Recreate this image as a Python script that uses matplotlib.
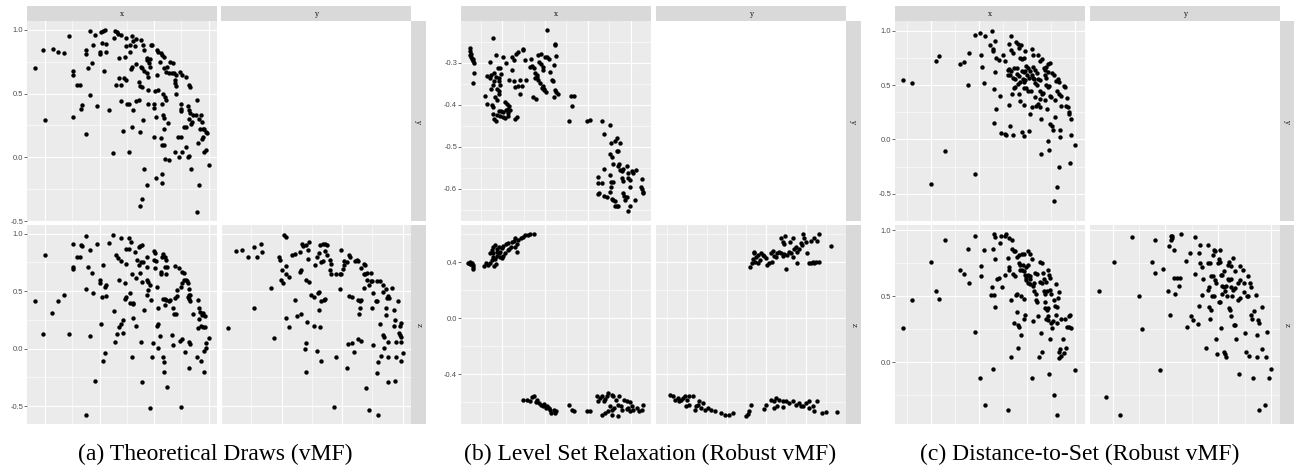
import numpy as np
import matplotlib
matplotlib.use("Agg")
import matplotlib.pyplot as plt

# ---------------- data ----------------
# (a) Theoretical Draws (vMF)
a_xy = [(-0.59,0.70),(-0.52,0.84),(-0.50,0.29),(-0.43,0.85),(-0.38,0.83),(-0.33,0.82),(-0.28,0.95),(-0.245,0.68),(-0.245,0.65),(-0.245,0.32),(-0.21,0.57),(-0.18,0.57),(-0.17,0.38),(-0.16,0.41),(-0.13,0.84),(-0.13,0.81),(-0.13,0.18),(-0.11,0.70),(-0.09,0.99),(-0.085,0.49),(-0.07,0.74),(-0.06,0.88),(-0.04,0.96),(-0.02,0.40),(0.0,0.81),(0.005,0.83),(0.01,0.98),(0.03,0.99),(0.05,1.0),(0.02,0.90),(0.04,0.68),(0.06,0.89),(0.06,0.83),(0.09,0.37),(0.12,0.03),(0.13,0.94),(0.14,0.99),(0.16,0.98),(0.17,0.97),(0.20,0.96),(0.15,0.57),(0.18,0.62),(0.20,0.57),(0.18,0.78),(0.20,0.44),(0.21,0.21),(0.22,0.62),(0.24,0.61),(0.23,0.79),(0.24,0.87),(0.24,0.94),(0.25,0.42),(0.27,0.42),(0.27,0.04),(0.28,0.88),(0.28,0.83),(0.29,0.69),(0.30,0.71),(0.30,0.95),(0.31,0.91),(0.32,0.87),(0.31,0.37),(0.30,0.24),(0.33,0.93),(0.33,0.73),(0.33,0.44),(0.36,0.45),(0.36,0.59),(0.37,0.56),(0.37,0.20),(0.38,0.92),(0.40,0.88),(0.41,0.84),(0.38,0.71),(0.39,0.70),(0.41,0.68),(0.39,0.55),(0.40,0.29),(0.41,-0.09),(0.43,-0.22),(0.37,-0.38),(0.39,-0.33),(0.43,0.78),(0.43,0.76),(0.45,0.74),(0.43,0.66),(0.44,0.63),(0.44,0.42),(0.44,0.53),(0.46,0.71),(0.46,0.77),(0.47,0.88),(0.48,0.88),(0.50,0.42),(0.50,0.39),(0.50,0.16),(0.51,0.52),(0.53,0.84),(0.54,0.83),(0.56,0.82),(0.57,0.80),(0.59,0.79),(0.52,0.32),(0.52,-0.16),(0.53,0.65),(0.54,0.53),(0.55,0.75),(0.56,0.15),(0.57,-0.20),(0.57,-0.13),(0.57,0.42),(0.58,0.33),(0.59,0.31),(0.57,0.10),(0.59,0.10),(0.58,0.50),(0.60,0.47),(0.61,0.45),(0.59,0.22),(0.59,0.70),(0.61,0.67),(0.62,0.71),(0.60,-0.01),(0.63,0.27),(0.64,-0.02),(0.64,0.66),(0.66,0.66),(0.68,0.66),(0.65,0.75),(0.67,0.74),(0.69,0.61),(0.69,0.58),(0.70,0.56),(0.69,0.04),(0.70,0.50),(0.70,0.65),(0.72,0.16),(0.75,0.16),(0.73,0.00),(0.74,0.67),(0.76,0.65),(0.79,0.63),(0.75,0.42),(0.75,0.38),(0.75,0.36),(0.76,0.04),(0.77,0.24),(0.79,0.24),(0.79,0.08),(0.81,0.40),(0.82,0.37),(0.83,0.35),(0.81,0.00),(0.82,0.01),(0.82,0.57),(0.83,0.55),(0.82,0.30),(0.84,0.26),(0.85,0.28),(0.84,-0.09),(0.86,0.33),(0.88,0.33),(0.89,0.45),(0.89,-0.43),(0.90,0.11),(0.91,-0.22),(0.91,0.30),(0.93,0.33),(0.94,0.28),(0.92,0.22),(0.95,0.22),(0.94,0.14),(0.95,0.16),(0.96,0.22),(0.98,0.20),(0.985,0.19),(0.96,0.04),(0.98,0.06),(1.0,-0.06)]
a_xz = [(-0.59,0.41),(-0.52,0.13),(-0.50,0.81),(-0.44,0.31),(-0.38,0.41),(-0.33,0.47),(-0.28,0.13),(-0.245,0.91),(-0.245,0.71),(-0.245,0.69),(-0.21,0.80),(-0.18,0.80),(-0.17,0.90),(-0.16,0.89),(-0.13,0.98),(-0.13,0.52),(-0.13,-0.58),(-0.11,0.71),(-0.09,0.11),(-0.085,0.86),(-0.07,0.66),(-0.06,0.48),(-0.04,-0.28),(-0.02,0.91),(0.0,0.60),(0.005,0.57),(0.01,0.21),(0.02,0.45),(0.03,0.73),(0.03,-0.11),(0.05,-0.04),(0.05,0.54),(0.06,0.55),(0.06,0.46),(0.09,0.92),(0.12,0.99),(0.13,0.33),(0.14,0.06),(0.15,0.81),(0.17,0.79),(0.16,0.13),(0.18,0.60),(0.18,0.19),(0.20,0.21),(0.20,0.76),(0.20,0.96),(0.21,0.14),(0.21,0.25),(0.23,0.57),(0.23,0.43),(0.24,0.45),(0.24,0.74),(0.24,0.87),(0.27,0.87),(0.27,0.96),(0.28,0.48),(0.28,0.40),(0.31,0.39),(0.31,0.40),(0.29,0.93),(0.30,0.65),(0.30,-0.07),(0.31,0.27),(0.32,0.84),(0.33,0.20),(0.33,0.61),(0.34,0.77),(0.36,0.88),(0.37,0.89),(0.39,0.90),(0.36,0.73),(0.38,0.75),(0.40,0.75),(0.37,0.66),(0.38,0.06),(0.39,-0.29),(0.39,0.58),(0.41,0.34),(0.43,0.80),(0.43,0.71),(0.43,0.60),(0.44,0.58),(0.43,0.47),(0.44,0.51),(0.46,0.55),(0.46,-0.52),(0.47,0.42),(0.48,-0.07),(0.49,0.05),(0.50,0.85),(0.51,0.83),(0.50,0.77),(0.52,0.76),(0.51,0.70),(0.53,0.54),(0.53,0.20),(0.54,0.21),(0.54,0.35),(0.54,0.01),(0.55,0.11),(0.56,0.67),(0.56,0.65),(0.57,0.80),(0.58,0.82),(0.60,0.80),(0.58,-0.07),(0.59,-0.12),(0.59,-0.20),(0.58,0.43),(0.60,0.43),(0.60,0.38),(0.61,0.42),(0.60,0.71),(0.62,0.71),(0.61,0.65),(0.61,0.77),(0.62,-0.33),(0.64,0.41),(0.65,0.42),(0.66,0.12),(0.67,0.35),(0.67,0.03),(0.68,0.30),(0.70,0.30),(0.69,0.44),(0.71,0.46),(0.69,0.72),(0.71,0.51),(0.73,0.70),(0.76,0.67),(0.77,0.66),(0.74,0.07),(0.76,0.08),(0.75,-0.51),(0.75,0.54),(0.76,0.57),(0.77,0.60),(0.79,0.60),(0.78,-0.03),(0.80,0.59),(0.81,0.57),(0.82,0.52),(0.81,0.45),(0.82,0.47),(0.83,0.47),(0.82,0.43),(0.83,0.41),(0.82,0.06),(0.83,0.04),(0.82,-0.17),(0.86,0.30),(0.89,-0.07),(0.90,0.42),(0.90,0.18),(0.91,0.35),(0.92,0.32),(0.94,0.29),(0.91,0.26),(0.93,0.20),(0.95,0.19),(0.97,0.19),(0.93,-0.11),(0.96,-0.20),(0.96,-0.02),(0.98,0.01),(0.97,0.28),(0.95,0.31),(0.98,0.05),(1.0,0.09)]
a_yz = [(-0.44,0.18),(-0.38,0.85),(-0.33,0.86),(-0.28,0.80),(-0.23,0.88),(-0.23,0.35),(-0.20,0.80),(-0.16,0.84),(-0.17,0.91),(-0.09,0.53),(-0.06,0.09),(-0.02,0.80),(-0.01,0.77),(-0.005,0.60),(0.01,0.57),(0.0,0.68),(0.02,0.99),(0.04,0.97),(0.04,0.72),(0.04,0.65),(0.04,0.27),(0.06,0.19),(0.06,0.62),(0.09,0.81),(0.11,0.82),(0.11,0.42),(0.13,0.28),(0.16,0.30),(0.15,0.67),(0.16,0.68),(0.15,0.84),(0.17,0.91),(0.18,0.89),(0.19,0.0),(0.20,0.05),(0.20,-0.20),(0.20,0.90),(0.22,0.86),(0.20,0.60),(0.23,0.58),(0.21,0.23),(0.22,0.78),(0.23,0.93),(0.24,0.47),(0.27,0.45),(0.27,0.20),(0.28,0.73),(0.29,-0.02),(0.29,0.80),(0.31,0.83),(0.30,0.48),(0.31,0.49),(0.31,0.34),(0.32,0.19),(0.33,-0.11),(0.33,0.41),(0.35,0.42),(0.32,0.90),(0.34,0.91),(0.36,0.91),(0.38,0.90),(0.33,0.75),(0.34,0.76),(0.36,0.85),(0.36,0.43),(0.38,0.81),(0.40,0.77),(0.41,0.74),(0.40,0.68),(0.41,0.65),(0.43,-0.51),(0.45,-0.07),(0.45,0.65),(0.48,0.65),(0.49,0.65),(0.48,0.52),(0.49,0.86),(0.51,0.69),(0.52,0.76),(0.54,0.75),(0.52,0.73),(0.54,-0.17),(0.55,0.04),(0.56,0.46),(0.58,0.45),(0.56,0.81),(0.57,0.80),(0.58,0.05),(0.60,-0.03),(0.61,0.76),(0.62,0.77),(0.63,0.76),(0.63,0.08),(0.66,0.07),(0.63,0.42),(0.65,0.41),(0.66,0.42),(0.64,0.30),(0.65,0.35),(0.66,0.70),(0.68,0.65),(0.69,0.65),(0.68,0.53),(0.68,0.74),(0.69,0.73),(0.71,0.66),(0.70,-0.34),(0.71,0.60),(0.72,0.55),(0.72,-0.53),(0.74,0.59),(0.75,0.59),(0.74,0.66),(0.75,0.35),(0.76,0.03),(0.76,0.48),(0.78,0.41),(0.79,0.41),(0.79,-0.21),(0.80,-0.12),(0.79,0.59),(0.81,0.59),(0.80,-0.58),(0.81,0.21),(0.82,-0.06),(0.84,0.55),(0.86,0.52),(0.84,0.49),(0.84,0.12),(0.85,0.10),(0.85,0.01),(0.86,0.35),(0.86,0.29),(0.87,0.44),(0.88,0.46),(0.89,0.44),(0.88,-0.29),(0.88,-0.07),(0.88,0.06),(0.91,0.53),(0.93,0.20),(0.93,0.34),(0.94,0.25),(0.94,-0.28),(0.95,0.06),(0.95,-0.07),(0.96,0.41),(0.97,0.14),(0.98,0.12),(0.98,0.20),(0.99,0.22),(0.99,0.10),(0.99,-0.11),(1.0,-0.04),(0.99,0.06)]

# (b) Level Set Relaxation (Robust vMF)
b_xy = [(-0.877,-0.264),(-0.876,-0.271),(-0.874,-0.279),(-0.873,-0.286),(-0.870,-0.290),(-0.868,-0.296),(-0.866,-0.324),(-0.868,-0.349),(-0.876,-0.282),(-0.872,-0.291),(-0.866,-0.300),(-0.821,-0.240),(-0.830,-0.298),(-0.841,-0.379),(-0.837,-0.397),(-0.835,-0.332),(-0.830,-0.337),(-0.827,-0.329),(-0.827,-0.363),(-0.825,-0.401),(-0.821,-0.406),(-0.823,-0.421),(-0.819,-0.433),(-0.816,-0.438),(-0.823,-0.352),(-0.819,-0.344),(-0.819,-0.323),(-0.815,-0.333),(-0.815,-0.280),(-0.817,-0.381),(-0.813,-0.389),(-0.813,-0.361),(-0.809,-0.367),(-0.811,-0.313),(-0.805,-0.313),(-0.809,-0.344),(-0.805,-0.353),(-0.807,-0.415),(-0.803,-0.414),(-0.799,-0.417),(-0.803,-0.326),(-0.807,-0.337),(-0.808,-0.373),(-0.805,-0.427),(-0.799,-0.429),(-0.813,-0.425),(-0.794,-0.393),(-0.790,-0.398),(-0.786,-0.409),(-0.782,-0.413),(-0.784,-0.403),(-0.791,-0.413),(-0.788,-0.419),(-0.794,-0.431),(-0.788,-0.427),(-0.798,-0.287),(-0.791,-0.300),(-0.784,-0.340),(-0.778,-0.286),(-0.774,-0.294),(-0.778,-0.316),(-0.773,-0.344),(-0.770,-0.357),(-0.768,-0.278),(-0.764,-0.274),(-0.770,-0.433),(-0.765,-0.429),(-0.763,-0.355),(-0.759,-0.375),(-0.758,-0.341),(-0.755,-0.355),(-0.752,-0.268),(-0.751,-0.266),(-0.745,-0.341),(-0.747,-0.294),(-0.735,-0.310),(-0.731,-0.308),(-0.727,-0.313),(-0.733,-0.290),(-0.729,-0.381),(-0.721,-0.387),(-0.723,-0.324),(-0.720,-0.333),(-0.716,-0.340),(-0.723,-0.337),(-0.718,-0.329),(-0.716,-0.282),(-0.710,-0.279),(-0.714,-0.298),(-0.710,-0.303),(-0.706,-0.310),(-0.704,-0.316),(-0.708,-0.359),(-0.702,-0.365),(-0.698,-0.369),(-0.702,-0.361),(-0.705,-0.356),(-0.712,-0.349),(-0.700,-0.287),(-0.696,-0.222),(-0.695,-0.287),(-0.691,-0.290),(-0.688,-0.321),(-0.684,-0.341),(-0.682,-0.344),(-0.680,-0.381),(-0.680,-0.304),(-0.677,-0.365),(-0.674,-0.369),(-0.670,-0.373),(-0.677,-0.258),(-0.676,-0.254),(-0.674,-0.284),(-0.639,-0.379),(-0.632,-0.379),(-0.638,-0.403),(-0.643,-0.438),(-0.601,-0.438),(-0.596,-0.435),(-0.575,-0.571),(-0.577,-0.586),(-0.577,-0.613),(-0.573,-0.611),(-0.567,-0.438),(-0.567,-0.587),(-0.562,-0.470),(-0.562,-0.552),(-0.562,-0.617),(-0.555,-0.619),(-0.549,-0.448),(-0.548,-0.568),(-0.546,-0.583),(-0.542,-0.583),(-0.548,-0.517),(-0.544,-0.524),(-0.542,-0.540),(-0.546,-0.595),(-0.548,-0.607),(-0.546,-0.490),(-0.544,-0.625),(-0.540,-0.627),(-0.536,-0.629),(-0.536,-0.486),(-0.532,-0.479),(-0.532,-0.511),(-0.529,-0.509),(-0.530,-0.545),(-0.526,-0.542),(-0.524,-0.490),(-0.536,-0.641),(-0.532,-0.641),(-0.529,-0.641),(-0.524,-0.556),(-0.520,-0.558),(-0.518,-0.553),(-0.520,-0.575),(-0.517,-0.581),(-0.518,-0.611),(-0.515,-0.617),(-0.509,-0.619),(-0.513,-0.627),(-0.509,-0.546),(-0.505,-0.562),(-0.507,-0.575),(-0.502,-0.579),(-0.505,-0.653),(-0.501,-0.642),(-0.497,-0.557),(-0.493,-0.563),(-0.501,-0.597),(-0.489,-0.627),(-0.487,-0.556),(-0.475,-0.597),(-0.473,-0.601),(-0.472,-0.578),(-0.471,-0.608),(-0.470,-0.611)]
b_xz = [(-0.880,0.398),(-0.876,0.405),(-0.872,0.393),(-0.868,0.381),(-0.877,0.386),(-0.873,0.388),(-0.870,0.369),(-0.868,0.350),(-0.843,0.376),(-0.838,0.393),(-0.833,0.381),(-0.829,0.393),(-0.825,0.417),(-0.821,0.436),(-0.817,0.421),(-0.813,0.445),(-0.809,0.464),(-0.805,0.476),(-0.829,0.464),(-0.825,0.488),(-0.821,0.512),(-0.817,0.524),(-0.820,0.374),(-0.816,0.388),(-0.813,0.493),(-0.809,0.512),(-0.805,0.440),(-0.802,0.429),(-0.798,0.445),(-0.794,0.464),(-0.802,0.500),(-0.798,0.517),(-0.791,0.531),(-0.788,0.488),(-0.784,0.493),(-0.780,0.512),(-0.786,0.536),(-0.778,0.548),(-0.774,0.555),(-0.770,0.571),(-0.765,0.476),(-0.763,0.560),(-0.757,0.571),(-0.752,0.579),(-0.747,0.595),(-0.741,0.595),(-0.735,0.600),(-0.726,0.600),(-0.770,0.507),(-0.766,0.531),(-0.821,0.464),(-0.813,0.476),(-0.751,-0.588),(-0.743,-0.583),(-0.731,-0.564),(-0.727,-0.555),(-0.735,-0.595),(-0.721,-0.602),(-0.718,-0.583),(-0.714,-0.607),(-0.710,-0.619),(-0.706,-0.631),(-0.702,-0.612),(-0.698,-0.643),(-0.695,-0.631),(-0.691,-0.643),(-0.688,-0.655),(-0.686,-0.679),(-0.679,-0.655),(-0.677,-0.679),(-0.674,-0.667),(-0.643,-0.619),(-0.638,-0.655),(-0.632,-0.667),(-0.601,-0.662),(-0.595,-0.667),(-0.579,-0.560),(-0.575,-0.595),(-0.571,-0.571),(-0.567,-0.555),(-0.563,-0.595),(-0.559,-0.576),(-0.555,-0.560),(-0.552,-0.536),(-0.544,-0.548),(-0.540,-0.560),(-0.534,-0.583),(-0.528,-0.560),(-0.548,-0.631),(-0.544,-0.655),(-0.538,-0.643),(-0.567,-0.690),(-0.559,-0.679),(-0.552,-0.667),(-0.530,-0.619),(-0.523,-0.631),(-0.520,-0.655),(-0.516,-0.583),(-0.509,-0.595),(-0.501,-0.602),(-0.505,-0.643),(-0.497,-0.631),(-0.493,-0.655),(-0.485,-0.643),(-0.481,-0.667),(-0.473,-0.655),(-0.471,-0.619),(-0.501,-0.667),(-0.509,-0.650),(-0.530,-0.702),(-0.544,-0.690)]
b_yz = [(-0.440,0.369),(-0.437,0.393),(-0.432,0.464),(-0.430,0.476),(-0.426,0.440),(-0.422,0.452),(-0.417,0.417),(-0.413,0.469),(-0.409,0.452),(-0.405,0.445),(-0.401,0.429),(-0.398,0.381),(-0.393,0.393),(-0.387,0.405),(-0.380,0.445),(-0.376,0.436),(-0.372,0.464),(-0.368,0.476),(-0.363,0.464),(-0.359,0.445),(-0.355,0.460),(-0.363,0.571),(-0.359,0.548),(-0.355,0.531),(-0.353,0.588),(-0.351,0.350),(-0.347,0.455),(-0.342,0.476),(-0.338,0.464),(-0.334,0.440),(-0.340,0.548),(-0.334,0.571),(-0.330,0.493),(-0.326,0.512),(-0.322,0.476),(-0.318,0.493),(-0.322,0.393),(-0.314,0.536),(-0.311,0.524),(-0.308,0.602),(-0.305,0.571),(-0.301,0.548),(-0.297,0.464),(-0.293,0.398),(-0.288,0.393),(-0.284,0.400),(-0.280,0.393),(-0.276,0.405),(-0.268,0.405),(-0.288,0.555),(-0.280,0.571),(-0.272,0.555),(-0.268,0.602),(-0.238,0.517),(-0.434,0.421),(-0.428,0.405),(-0.420,0.398),(-0.388,0.464),(-0.384,0.483),(-0.643,-0.548),(-0.634,-0.560),(-0.630,-0.583),(-0.623,-0.571),(-0.620,-0.595),(-0.613,-0.583),(-0.609,-0.571),(-0.603,-0.560),(-0.598,-0.583),(-0.593,-0.560),(-0.584,-0.560),(-0.601,-0.631),(-0.593,-0.619),(-0.580,-0.655),(-0.576,-0.631),(-0.572,-0.619),(-0.565,-0.643),(-0.568,-0.595),(-0.559,-0.607),(-0.555,-0.655),(-0.547,-0.643),(-0.538,-0.660),(-0.530,-0.667),(-0.513,-0.679),(-0.505,-0.690),(-0.493,-0.690),(-0.484,-0.679),(-0.451,-0.698),(-0.447,-0.683),(-0.443,-0.667),(-0.438,-0.619),(-0.405,-0.650),(-0.401,-0.619),(-0.388,-0.583),(-0.382,-0.595),(-0.376,-0.571),(-0.368,-0.583),(-0.359,-0.595),(-0.351,-0.595),(-0.342,-0.607),(-0.380,-0.643),(-0.372,-0.631),(-0.359,-0.636),(-0.334,-0.595),(-0.326,-0.619),(-0.318,-0.607),(-0.309,-0.626),(-0.301,-0.607),(-0.293,-0.595),(-0.284,-0.631),(-0.272,-0.595),(-0.280,-0.667),(-0.259,-0.679),(-0.251,-0.674),(-0.222,-0.674),(-0.293,-0.643),(-0.314,-0.631)]

# (c) Distance-to-Set (Robust vMF)
c_xy = [(-0.79,0.55),(-0.70,0.52),(-0.50,-0.41),(-0.45,0.72),(-0.42,0.77),(-0.36,-0.11),(-0.20,0.69),(-0.16,0.71),(-0.12,0.50),(-0.11,0.80),(-0.05,0.96),(-0.04,-0.32),(0.01,0.98),(0.06,0.95),(0.02,0.78),(0.03,0.67),(0.05,0.52),(0.11,0.87),(0.14,0.83),(0.14,0.81),(0.13,1.0),(0.15,0.46),(0.15,0.15),(0.16,0.91),(0.16,0.62),(0.17,0.28),(0.17,0.75),(0.20,0.73),(0.22,0.40),(0.23,0.06),(0.27,0.05),(0.28,0.04),(0.25,0.78),(0.27,0.72),(0.30,0.64),(0.31,0.65),(0.33,0.63),(0.30,0.59),(0.32,0.59),(0.31,0.88),(0.31,0.32),(0.32,0.12),(0.33,0.95),(0.33,0.82),(0.35,0.80),(0.34,0.42),(0.36,0.47),(0.37,0.48),(0.35,0.04),(0.35,0.57),(0.37,0.56),(0.39,0.60),(0.41,0.58),(0.36,0.66),(0.39,0.66),(0.38,0.90),(0.40,0.88),(0.41,0.84),(0.43,0.87),(0.40,0.51),(0.42,0.53),(0.41,0.42),(0.42,0.75),(0.44,0.74),(0.46,0.75),(0.42,0.35),(0.44,0.07),(0.44,0.63),(0.46,0.62),(0.48,0.63),(0.45,0.56),(0.47,0.53),(0.48,0.55),(0.46,0.47),(0.47,0.32),(0.47,0.03),(0.48,0.81),(0.49,0.68),(0.51,0.66),(0.53,0.63),(0.50,0.59),(0.52,0.57),(0.55,0.59),(0.49,0.47),(0.51,0.45),(0.52,0.08),(0.53,0.23),(0.54,0.45),(0.55,0.83),(0.56,0.78),(0.55,0.30),(0.56,0.57),(0.57,0.56),(0.58,0.52),(0.56,0.67),(0.58,0.64),(0.60,0.61),(0.58,0.39),(0.59,0.31),(0.61,0.33),(0.60,0.50),(0.61,0.78),(0.61,0.56),(0.63,0.55),(0.63,0.37),(0.63,0.72),(0.65,0.74),(0.63,0.30),(0.63,0.45),(0.65,0.42),(0.66,0.43),(0.64,-0.13),(0.64,0.19),(0.67,0.66),(0.68,0.64),(0.69,0.67),(0.68,0.59),(0.69,0.57),(0.71,0.62),(0.68,0.36),(0.69,0.50),(0.71,0.48),(0.73,0.49),(0.70,0.28),(0.72,0.69),(0.74,0.70),(0.72,-0.01),(0.73,-0.10),(0.74,0.40),(0.75,0.39),(0.74,0.14),(0.76,0.12),(0.76,0.61),(0.78,0.59),(0.77,0.09),(0.78,-0.57),(0.79,0.21),(0.79,0.36),(0.80,0.54),(0.82,0.56),(0.83,0.53),(0.81,-0.44),(0.81,0.45),(0.83,0.42),(0.85,0.40),(0.83,-0.25),(0.84,0.02),(0.84,0.09),(0.85,0.31),(0.88,0.49),(0.89,0.48),(0.90,0.31),(0.92,0.30),(0.91,0.38),(0.93,0.25),(0.93,0.23),(0.94,-0.22),(0.95,0.04),(0.95,0.19),(1.0,-0.05)]
c_xz = [(-0.79,0.26),(-0.70,0.47),(-0.50,0.76),(-0.45,0.54),(-0.42,0.48),(-0.36,0.93),(-0.20,0.70),(-0.16,0.67),(-0.12,0.86),(-0.11,0.60),(-0.05,0.23),(-0.04,0.96),(0.01,-0.12),(0.02,0.73),(0.02,0.65),(0.05,0.85),(0.06,-0.32),(0.12,0.51),(0.15,0.51),(0.13,0.57),(0.14,0.86),(0.15,0.97),(0.16,0.95),(0.16,0.78),(0.16,0.42),(0.14,-0.05),(0.18,0.63),(0.20,0.64),(0.22,0.90),(0.23,0.96),(0.27,0.96),(0.28,0.97),(0.24,0.57),(0.27,0.66),(0.30,0.79),(0.31,0.72),(0.31,0.70),(0.30,-0.36),(0.31,0.94),(0.34,0.93),(0.33,0.47),(0.33,0.04),(0.34,0.86),(0.36,0.84),(0.35,0.67),(0.37,0.65),(0.36,0.30),(0.37,0.84),(0.39,0.80),(0.41,0.81),(0.38,0.51),(0.39,0.52),(0.39,0.38),(0.40,0.11),(0.40,0.28),(0.41,0.27),(0.41,0.75),(0.42,0.74),(0.45,0.74),(0.42,0.70),(0.44,0.70),(0.46,0.69),(0.43,0.50),(0.46,0.48),(0.43,0.21),(0.44,0.82),(0.46,0.82),(0.47,0.33),(0.48,0.36),(0.48,0.66),(0.49,0.64),(0.51,0.66),(0.53,0.65),(0.49,0.72),(0.51,0.74),(0.49,0.62),(0.51,0.60),(0.53,0.63),(0.51,0.84),(0.53,0.82),(0.55,0.78),(0.53,0.59),(0.56,0.58),(0.57,0.60),(0.55,-0.12),(0.56,0.31),(0.57,0.54),(0.59,0.52),(0.58,0.68),(0.60,0.67),(0.59,0.47),(0.60,0.46),(0.61,0.35),(0.62,0.04),(0.63,0.76),(0.65,0.75),(0.63,0.61),(0.65,0.60),(0.67,0.63),(0.69,0.61),(0.65,0.08),(0.64,0.22),(0.66,0.68),(0.67,0.54),(0.68,0.52),(0.70,0.54),(0.68,0.46),(0.68,0.41),(0.70,0.40),(0.72,0.41),(0.69,0.33),(0.71,0.35),(0.72,0.32),(0.71,0.70),(0.73,0.66),(0.74,0.64),(0.73,-0.09),(0.74,0.18),(0.74,0.55),(0.75,0.52),(0.75,0.30),(0.77,0.31),(0.76,0.26),(0.78,0.47),(0.78,-0.25),(0.79,0.43),(0.81,0.42),(0.80,0.59),(0.80,0.36),(0.81,0.30),(0.81,-0.40),(0.82,0.49),(0.83,0.53),(0.83,0.08),(0.84,0.10),(0.85,0.05),(0.83,0.03),(0.85,0.33),(0.87,0.18),(0.88,0.07),(0.89,0.33),(0.90,0.11),(0.91,0.27),(0.93,0.35),(0.94,0.36),(0.93,0.27),(0.95,0.26),(1.0,-0.06)]
c_yz = [(-0.63,0.54),(-0.56,-0.26),(-0.49,0.76),(-0.43,-0.40),(-0.32,0.95),(-0.25,0.50),(-0.22,0.25),(-0.13,0.76),(-0.10,0.93),(-0.10,0.68),(-0.05,-0.06),(-0.02,0.71),(0.02,0.54),(0.03,0.88),(0.05,0.93),(0.06,0.96),(0.05,0.96),(0.06,0.94),(0.04,0.36),(0.08,0.85),(0.08,0.64),(0.11,0.64),(0.14,0.64),(0.09,0.52),(0.13,0.58),(0.15,0.97),(0.19,0.77),(0.20,0.27),(0.23,0.83),(0.24,0.35),(0.26,0.32),(0.28,0.95),(0.28,0.67),(0.31,0.29),(0.32,0.43),(0.32,0.83),(0.33,0.89),(0.33,0.75),(0.35,0.72),(0.35,0.51),(0.36,0.63),(0.38,0.11),(0.40,0.55),(0.41,0.57),(0.40,0.75),(0.42,0.75),(0.41,0.42),(0.43,0.40),(0.40,0.89),(0.42,0.33),(0.43,0.65),(0.45,0.65),(0.44,0.50),(0.46,0.50),(0.46,0.85),(0.47,0.84),(0.45,0.81),(0.47,0.62),(0.48,0.60),(0.48,0.18),(0.49,0.06),(0.50,0.75),(0.51,0.78),(0.52,0.76),(0.51,0.46),(0.52,0.46),(0.52,0.85),(0.53,0.66),(0.54,0.66),(0.55,0.69),(0.53,0.26),(0.54,0.58),(0.55,0.57),(0.57,0.58),(0.54,0.52),(0.56,0.54),(0.58,0.50),(0.55,0.08),(0.56,0.06),(0.57,0.04),(0.59,0.74),(0.60,0.76),(0.62,0.73),(0.59,0.63),(0.60,0.62),(0.62,0.63),(0.60,0.41),(0.61,0.40),(0.62,0.35),(0.62,0.57),(0.64,0.55),(0.66,0.56),(0.63,0.50),(0.64,0.79),(0.65,0.28),(0.66,0.28),(0.66,0.69),(0.67,0.18),(0.69,0.60),(0.71,0.62),(0.69,0.47),(0.71,0.49),(0.70,-0.09),(0.71,0.73),(0.73,0.70),(0.74,0.60),(0.74,0.53),(0.75,0.22),(0.76,0.08),(0.77,0.50),(0.78,0.50),(0.78,0.65),(0.79,0.05),(0.80,0.60),(0.81,0.57),(0.81,0.36),(0.82,0.33),(0.83,-0.12),(0.84,0.39),(0.86,0.51),(0.87,0.21),(0.87,0.04),(0.88,0.32),(0.89,0.30),(0.89,-0.36),(0.91,0.10),(0.91,0.42),(0.94,-0.32),(0.95,0.04),(0.96,0.23),(0.98,-0.12),(1.0,-0.05)]

captions = ["(a) Theoretical Draws (vMF)",
            "(b) Level Set Relaxation (Robust vMF)",
            "(c) Distance-to-Set (Robust vMF)"]
col_labels = ["x", "y"]
row_labels = ["y", "z"]

# ---------------- drawing ----------------
W, H = 1294, 467
fig = plt.figure(figsize=(W / 100, H / 100), dpi=100)
fig.patch.set_facecolor("white")

def ax_px(x0, y0, x1, y1):
    return fig.add_axes([x0 / W, 1 - y1 / H, (x1 - x0) / W, (y1 - y0) / H])

def fmt(v):
    s = f"{v:.1f}"
    return "0.0" if s == "-0.0" else s

def panel(box, pts, xlim, ylim, xmaj, xmin, ymaj, ymin, ylab):
    ax = ax_px(*box)
    ax.set_facecolor("#EBEBEB")
    for s in ax.spines.values():
        s.set_visible(False)
    ax.set_xlim(xlim)
    ax.set_ylim(ylim)
    ax.set_xticks(xmaj)
    ax.set_xticks(xmin, minor=True)
    ax.set_yticks(ymaj)
    ax.set_yticks(ymin, minor=True)
    ax.grid(which="major", color="white", lw=0.8)
    ax.grid(which="minor", color="white", lw=0.4)
    ax.set_axisbelow(True)
    ax.tick_params(axis="x", which="both", length=0, labelbottom=False)
    ax.tick_params(axis="y", which="minor", length=0)
    if ylab:
        ax.set_yticklabels([fmt(v) for v in ymaj])
        ax.tick_params(axis="y", which="major", length=2.0, width=0.5,
                       color="#333333", labelsize=5.4, labelcolor="#4D4D4D", pad=0.8)
        for t in ax.get_yticklabels():
            t.set_fontfamily("Liberation Sans")
    else:
        ax.tick_params(axis="y", which="major", length=0, labelleft=False)
    if pts is not None:
        arr = np.array(pts)
        ax.scatter(arr[:, 0], arr[:, 1], s=10, c="black", linewidths=0, zorder=3)
    return ax

def strip(box, text, rot=0):
    ax = ax_px(*box)
    ax.set_facecolor("#D9D9D9")
    ax.set_xticks([])
    ax.set_yticks([])
    for s in ax.spines.values():
        s.set_visible(False)
    ax.text(0.5, 0.5, text, transform=ax.transAxes, ha="center", va="center",
            fontsize=5.2, color="#1A1A1A", rotation=rot, family="DejaVu Serif")

groups = [
    dict(x0=27, x1=217, x2=221, x3=411, s1=426, cap=215,
         data=(a_xy, a_xz, a_yz),
         xlimL=(-0.667, 1.077), xmajL=[-0.5, 0, 0.5, 1.0], xminL=[-0.25, 0.25, 0.75],
         xlimR=(-0.50, 1.07), xmajR=[-0.5, 0, 0.5, 1.0], xminR=[-0.25, 0.25, 0.75],
         ylimT=(-0.50, 1.07), ymajT=[-0.5, 0, 0.5, 1.0], yminT=[-0.25, 0.25, 0.75],
         ylimB=(-0.655, 1.075), ymajB=[-0.5, 0, 0.5, 1.0], yminB=[-0.25, 0.25, 0.75]),
    dict(x0=461, x1=651, x2=656, x3=846, s1=861, cap=650,
         data=(b_xy, b_xz, b_yz),
         xlimL=(-0.897, -0.452), xmajL=[-0.8, -0.7, -0.6, -0.5], xminL=[-0.85, -0.75, -0.65, -0.55],
         xlimR=(-0.677, -0.200), xmajR=[-0.6, -0.5, -0.4, -0.3], xminR=[-0.65, -0.55, -0.45, -0.35, -0.25],
         ylimT=(-0.677, -0.200), ymajT=[-0.6, -0.5, -0.4, -0.3], yminT=[-0.65, -0.55, -0.45, -0.35, -0.25],
         ylimB=(-0.758, 0.667), ymajB=[-0.4, 0.0, 0.4], yminB=[-0.6, -0.2, 0.2, 0.6]),
    dict(x0=895, x1=1085, x2=1090, x3=1280, s1=1294, cap=1080,
         data=(c_xy, c_xz, c_yz),
         xlimL=(-0.878, 1.10), xmajL=[-0.5, 0, 0.5, 1.0], xminL=[-0.75, -0.25, 0.25, 0.75],
         xlimR=(-0.715, 1.085), xmajR=[-0.5, 0, 0.5, 1.0], xminR=[-0.25, 0.25, 0.75],
         ylimT=(-0.72, 1.09), ymajT=[-0.5, 0, 0.5, 1.0], yminT=[-0.75, -0.25, 0.25, 0.75],
         ylimB=(-0.467, 1.04), ymajB=[0, 0.5, 1.0], yminB=[-0.25, 0.25, 0.75]),
]

TOP = (21, 221)
BOT = (225, 424)
for g, cap in zip(groups, captions):
    dxy, dxz, dyz = g["data"]
    panel((g["x0"], TOP[0], g["x1"], TOP[1]), dxy, g["xlimL"], g["ylimT"],
          g["xmajL"], g["xminL"], g["ymajT"], g["yminT"], True)
    panel((g["x0"], BOT[0], g["x1"], BOT[1]), dxz, g["xlimL"], g["ylimB"],
          g["xmajL"], g["xminL"], g["ymajB"], g["yminB"], True)
    panel((g["x2"], BOT[0], g["x3"], BOT[1]), dyz, g["xlimR"], g["ylimB"],
          g["xmajR"], g["xminR"], g["ymajB"], g["yminB"], False)
    strip((g["x0"], 6, g["x1"], TOP[0]), col_labels[0])
    strip((g["x2"], 6, g["x3"], TOP[0]), col_labels[1])
    strip((g["x3"], TOP[0], g["s1"], TOP[1]), row_labels[0], rot=-90)
    strip((g["x3"], BOT[0], g["s1"], BOT[1]), row_labels[1], rot=-90)
    fig.text(g["cap"] / W, 1 - 460 / H, cap, ha="center", va="baseline",
             fontsize=17, family="Liberation Serif", color="black")

fig.savefig("out.png", dpi=100)
